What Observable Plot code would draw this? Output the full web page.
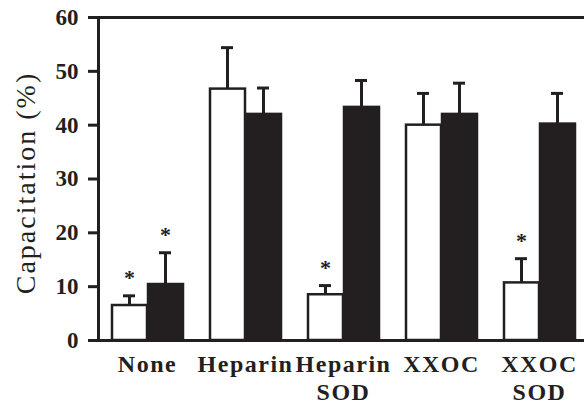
<!DOCTYPE html>
<html>
<head>
<meta charset="utf-8">
<script src="https://cdn.jsdelivr.net/npm/d3@7"></script>
<script src="https://cdn.jsdelivr.net/npm/@observablehq/plot@0.6"></script>
<style>
  html, body { margin: 0; padding: 0; background: #fff; overflow: hidden; }
  #chart svg { display: block; }
  #chart g[aria-label="fx-axis tick label"] text { letter-spacing: 1.5px; }
  #chart g.ytitle text { letter-spacing: 2px; }
</style>
</head>
<body>
<div id="chart"></div>
<script>
// Categories
const groups = ["None", "Heparin", "Heparin\nSOD", "XXOC", "XXOC\nSOD"];
const series = ["open", "filled"];
// Series values (mean capacitation %, and upper end of error bar)
const openMean = [6.5, 46.7, 8.5, 40.0, 10.7];
const openHigh = [8.3, 54.4, 10.2, 45.9, 15.2];
const filledMean = [10.4, 42.0, 43.3, 42.0, 40.2];
const filledHigh = [16.3, 46.9, 48.3, 47.8, 45.9];
// Significance markers
const openSig = [true, false, true, false, true];
const filledSig = [true, false, false, false, false];
// Tick labels
const yTicks = [0, 10, 20, 30, 40, 50, 60];
const yTitle = "Capacitation (%)";

const ink = "#231f20";
const serif = "'Liberation Serif', 'Times New Roman', serif";

const rows = [];
groups.forEach((g, i) => {
  rows.push({group: g, series: "open", mean: openMean[i], high: openHigh[i], sig: openSig[i]});
  rows.push({group: g, series: "filled", mean: filledMean[i], high: filledHigh[i], sig: filledSig[i]});
});

const chart = Plot.plot({
  width: 584,
  height: 406,
  marginLeft: 97,
  marginRight: -5,
  marginTop: 17,
  marginBottom: 66,
  style: {fontFamily: serif, color: ink, background: "#fff", overflow: "visible"},
  fx: {domain: groups, padding: 0, label: null},
  x: {domain: series, paddingInner: 0, paddingOuter: 0.33, axis: null},
  y: {domain: [0, 60], axis: null},
  color: {domain: series, range: ["#ffffff", ink]},
  marks: [
    Plot.ruleX(rows, {fx: "group", x: "series", y1: "mean", y2: "high", stroke: ink, strokeWidth: 3}),
    Plot.tickY(rows, {fx: "group", x: "series", y: "high", stroke: ink, strokeWidth: 3, inset: 12}),
    Plot.barY(rows, {fx: "group", x: "series", y: "mean", fill: "series", stroke: ink, strokeWidth: 2.5, insetLeft: 1, insetRight: 0}),
    Plot.text(rows.filter(d => d.sig), {fx: "group", x: "series", y: "high", text: () => "*", dy: -18, fontSize: 22, fontWeight: "bold", fill: ink}),
    Plot.ruleY([0, 60], {stroke: ink, strokeWidth: 3, insetLeft: -10}),
    Plot.frame({anchor: "left", facet: "super", stroke: ink, strokeWidth: 3}),
    Plot.axisY(yTicks, {anchor: "left", tickSize: 10, tickPadding: 10, strokeWidth: 3, stroke: ink, fill: ink, fontSize: 23, fontWeight: "bold", label: null}),
    Plot.text([yTitle], {facet: "super", frameAnchor: "left", textAnchor: "middle", lineAnchor: "middle", rotate: -90, dx: -72, dy: 4, fontSize: 28, fill: ink, className: "ytitle"}),
    Plot.axisFx({anchor: "bottom", tickSize: 0, tickPadding: 12, fontSize: 24, fontWeight: "bold", lineHeight: 1.16, fill: ink, label: null})
  ]
});
document.getElementById("chart").appendChild(chart);
</script>
</body>
</html>
